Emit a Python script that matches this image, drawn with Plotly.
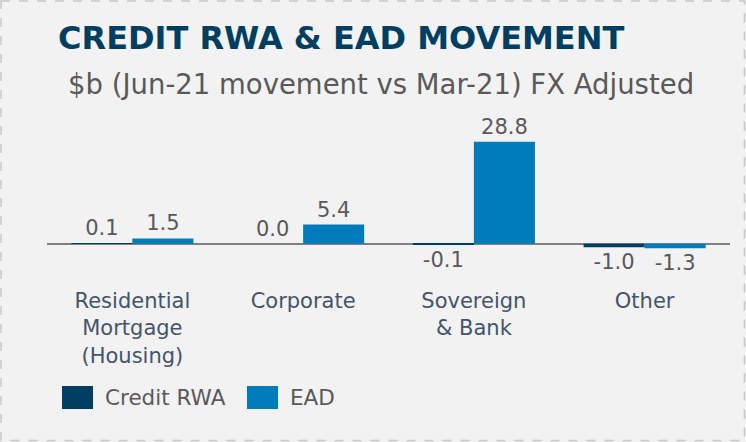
import plotly.graph_objects as go

categories = ["Residential<br>Mortgage<br>(Housing)", "Corporate", "Sovereign<br>& Bank", "Other"]
credit_rwa = [0.1, 0.0, -0.1, -1.0]
ead = [1.5, 5.4, 28.8, -1.3]
series_names = ["Credit RWA", "EAD"]
title_text = "CREDIT RWA & EAD MOVEMENT"
subtitle_text = "$b (Jun-21 movement vs Mar-21) FX Adjusted"

C_RWA = "#003e62"
C_EAD = "#007cba"
FONT = "DejaVu Sans"

W, H = 746, 442
L, R, T, B = 47, 16, 110, 159
PW, PH = W - L - R, H - T - B


def px(x):
    return (x - L) / PW


def py(y):
    return (H - B - y) / PH


fig = go.Figure()
for name, vals, col in [(series_names[0], credit_rwa, C_RWA), (series_names[1], ead, C_EAD)]:
    fig.add_trace(go.Bar(
        x=categories, y=vals, name=name, marker=dict(color=col, line=dict(width=0)),
        text=[f"{v:.1f}" for v in vals], textposition="outside",
        textfont=dict(family=FONT, size=21, color="#595959"),
        cliponaxis=False, showlegend=False,
    ))

fig.update_layout(
    width=W, height=H,
    margin=dict(l=L, r=R, t=T, b=B, pad=0),
    paper_bgcolor="#f2f2f2", plot_bgcolor="#f2f2f2",
    barmode="group", bargap=0.285, bargroupgap=0,
    font=dict(family=FONT),
    title=dict(text=f"<b>{title_text}</b>", xref="container", yref="container",
               x=58 / W, y=1 - 27 / H, xanchor="left", yanchor="top",
               font=dict(family=FONT, size=32, color="#003e62")),
    xaxis=dict(showline=False, showgrid=False, ticks="", zeroline=False,
               ticklabelstandoff=3,
               tickfont=dict(family=FONT, size=21, color="#44546a")),
    yaxis=dict(range=[-11.1, 37.77], showgrid=False, showticklabels=False, ticks="",
               zeroline=True, zerolinecolor="#808080", zerolinewidth=2, showline=False),
)

anns = [dict(text=subtitle_text, x=px(66), y=py(84), xref="paper", yref="paper",
             xanchor="left", yanchor="middle", showarrow=False,
             font=dict(family=FONT, size=27.5, color="#595959"))]

shapes = [dict(type="rect", xref="paper", yref="paper",
               x0=px(1), x1=px(744.5), y0=py(1), y1=py(440.5),
               line=dict(color="#c8c8c8", width=1.5, dash="dash"), fillcolor="rgba(0,0,0,0)")]

legend_items = [(series_names[0], C_RWA, 62, 103), (series_names[1], C_EAD, 247, 288)]
for name, col, sx, tx in legend_items:
    shapes.append(dict(type="rect", xref="paper", yref="paper",
                       x0=px(sx), x1=px(sx + 31), y0=py(386), y1=py(409),
                       fillcolor=col, line=dict(width=0)))
    anns.append(dict(text=name, x=px(tx), y=py(397.5), xref="paper", yref="paper",
                     xanchor="left", yanchor="middle", showarrow=False,
                     font=dict(family=FONT, size=21.5, color="#595959")))

fig.update_layout(annotations=anns, shapes=shapes)
fig.write_html("out.html", config={"displayModeBar": False},
               post_script="document.body.style.margin='0';document.body.style.padding='0';"
                           "document.documentElement.style.overflow='hidden';")
